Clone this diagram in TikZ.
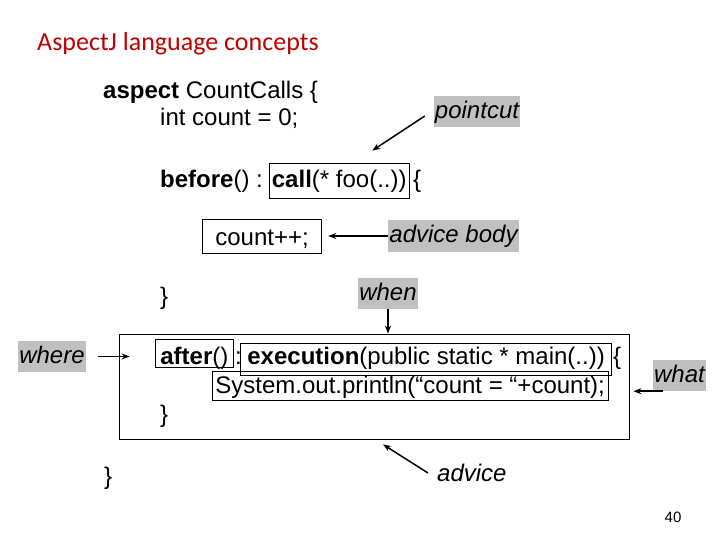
\documentclass[tikz,border=0pt]{standalone}
\usepackage{fontspec}
\setmainfont{Liberation Sans}
\newfontfamily\titlefont{Carlito}
\usetikzlibrary{arrows.meta}
\definecolor{lblgray}{RGB}{192,192,192}
\definecolor{titlered}{RGB}{192,0,0}

\begin{document}
\begin{tikzpicture}[x=1pt, y=-1pt,
  code/.style={font=\fontsize{24}{28}\selectfont, inner sep=0pt, anchor=base west},
  codebox/.style={code, draw, line width=0.8pt},
  lbl/.style={fill=lblgray, font=\fontsize{24}{28}\selectfont\itshape, inner xsep=1pt, inner ysep=4pt, text height=18pt, text depth=5pt},
  arr/.style={-{Stealth[length=8pt,width=6pt]}, line width=1.5pt}]
\useasboundingbox (0,0) rectangle (720,540);

% title
\node[anchor=base west, inner sep=0pt, text=titlered, font=\titlefont\fontsize{26}{30}\selectfont] (title) at (37,51) {AspectJ language concepts};

% aspect header
\node[code] (head) at (103,99) {\textbf{aspect} CountCalls \{};
\node[code] (decl) at (160,126) {int count = 0;};

% before advice
\node[code] (before) at (160,188) {\textbf{before}() :};
\node[codebox, inner xsep=2.5pt, text height=25pt, text depth=10pt] (call) at (269,188) {\textbf{call}(* foo(..))};
\node[code] (open1) at (413,188) {\{};
\node[codebox, inner xsep=13pt, text height=26pt, text depth=8pt] (count) at (202,245) {count++;};
\node[code] (close1) at (160,304) {\}};

% after advice, in its frame
\node[draw, line width=0.8pt, minimum width=510pt, minimum height=105pt] (outer) at (374,386.5) {};
\node[codebox, inner xsep=5pt, text height=25pt, text depth=3pt] (after) at (155,364) {\textbf{after}()};
\node[code] (colon) at (235,364) {:};
\node[codebox, inner xsep=7pt, text height=21pt, text depth=11pt] (exec) at (240,364) {\textbf{execution}(public static * main(..))};
\node[code] (open2) at (613,364) {\{};
\node[codebox, inner xsep=3pt, text height=22pt, text depth=7pt] (print) at (212,393) {System.out.println(“count = “+count);};
\node[code] (close2) at (160,422) {\}};
\node[code] (close3) at (104,484) {\}};

% labels
\node[lbl] (pointcut) at (477,112) {pointcut};
\node[lbl] (body) at (453.5,236) {advice body};
\node[lbl] (when) at (388,293.5) {when};
\node[lbl] (where) at (52,356.5) {where};
\node[lbl] (what) at (679.5,375.5) {what};
\node[code, font=\fontsize{24}{28}\selectfont\itshape, anchor=west] (advice) at (437,473) {advice};
\node[font=\fontsize{15}{18}\selectfont, inner sep=0pt] (page) at (673,517) {40};

% arrows
\draw[arr] ([xshift=-9pt,yshift=-4pt]pointcut.west) -- ([xshift=33pt,yshift=12pt]call.north);
\draw[arr] (body.west) -- ([xshift=6pt]count.east |- body.west);
\draw[arr] (when.south) -- (when.south |- outer.north);
\draw[arr] ([xshift=12pt]where.east) -- ([xshift=11pt]outer.west |- where.east);
\draw[arr] ([xshift=10pt]what.south west) -- ([xshift=4pt]outer.east |- what.south west);
\draw[arr] ([xshift=-9pt]advice.west) -- ([xshift=9pt,yshift=-5pt]outer.south);
\end{tikzpicture}
\end{document}
